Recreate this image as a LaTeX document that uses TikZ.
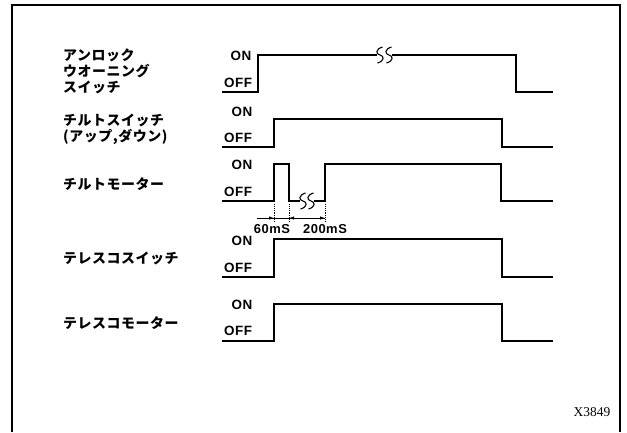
\documentclass[tikz,border=0pt]{standalone}
\usepackage{fontspec}
\setmainfont{Liberation Sans}
\newfontfamily\jpfont[LetterSpace=4]{Noto Sans CJK JP}
\newfontfamily\lvlfont[LetterSpace=4]{Liberation Sans}
\newfontfamily\seriffont{Liberation Serif}
\usetikzlibrary{arrows.meta}
\begin{document}
\begin{tikzpicture}[x=1bp,y=-1bp,
  frame/.style={line width=1.3bp},
  sig/.style={line width=1.4bp, line join=miter},
  lab/.style={anchor=west, inner sep=0pt, align=left, font=\jpfont\bfseries\fontsize{14}{16}\selectfont},
  lvl/.style={inner sep=0pt, font=\lvlfont\bfseries\fontsize{13.5}{15}\selectfont},
  dimtxt/.style={inner sep=0pt, font=\lvlfont\bfseries\fontsize{13}{15}\selectfont},
  ext/.style={densely dotted, line width=0.9bp},
  dimline/.style={line width=0.9bp},
  dimarr/.style={line width=0.9bp, -{Latex[length=5bp,width=3.5bp]}},
  brk/.pic={\draw[line width=1.1bp] (2.5,-8) .. controls (-4.5,-6) and (-4.5,-1) .. (0,0) .. controls (4.5,1) and (4.5,6) .. (-2.5,8);}
]
\useasboundingbox (0,0) rectangle (627,432);
% frame (open at bottom)
\draw[frame] (12,432) -- (12,5) -- (620,5) -- (620,432);

% labels
\node[lab] (l1) at (63,71.5) {アンロック\\ウオーニング\\スイッチ};
\node[lab] (l2) at (63,129.5) {チルトスイッチ\\(アップ,ダウン)};
\node[lab] (l3) at (63,184) {チルトモーター};
\node[lab] (l4) at (63,258) {テレスコスイッチ};
\node[lab] (l5) at (63,323) {テレスコモーター};

% ON / OFF levels
\node[lvl] (on1) at (241,56) {ON};
\node[lvl] (off1) at (238,83) {OFF};
\node[lvl] (on2) at (242,112) {ON};
\node[lvl] (off2) at (238,138) {OFF};
\node[lvl] (on3) at (242,165) {ON};
\node[lvl] (off3) at (238,192) {OFF};
\node[lvl] (on4) at (242,241) {ON};
\node[lvl] (off4) at (238,268) {OFF};
\node[lvl] (on5) at (242,305) {ON};
\node[lvl] (off5) at (238,331) {OFF};

% signal 1 : unlock warning switch
\draw[sig] (222,92) -- (258,92) -- (258,55) -- (377,55);
\draw[sig] (392,55) -- (516,55) -- (516,92) -- (553,92);
\pic at (380,55) {brk};
\pic at (389,55) {brk};

% signal 2 : tilt switch
\draw[sig] (222,147) -- (274,147) -- (274,119) -- (502,119) -- (502,147) -- (553,147);

% signal 3 : tilt motor
\draw[sig] (222,201) -- (274,201) -- (274,164) -- (289,164) -- (289,201) -- (300,201);
\draw[sig] (314,201) -- (325,201) -- (325,164) -- (501,164) -- (501,201) -- (553,201);
\pic at (303,201) {brk};
\pic at (311,201) {brk};

% dimension
\coordinate (e1) at (274,218);
\coordinate (e2) at (289,218);
\coordinate (e3) at (325,218);
\draw[ext] (274,204) -- (274,222);
\draw[ext] (289,204) -- (289,222);
\draw[ext] (325,204) -- (325,222);
\draw[dimline] (257,218) -- (e3);
\draw[dimarr] (262,218) -- (e1);
\draw[dimarr] (301,218) -- (e2);
\draw[dimarr] (312,218) -- (e3);
\node[dimtxt] (t60) at (272,229) {60mS};
\node[dimtxt] (t200) at (325,229) {200mS};

% signal 4 : telescopic switch
\draw[sig] (222,277) -- (274,277) -- (274,239) -- (502,239) -- (502,277) -- (553,277);

% signal 5 : telescopic motor
\draw[sig] (222,341) -- (274,341) -- (274,304) -- (502,304) -- (502,341) -- (553,341);

\node[inner sep=0pt, font=\seriffont\fontsize{13.5}{15}\selectfont] (code) at (592,412) {X3849};
\end{tikzpicture}
\end{document}
